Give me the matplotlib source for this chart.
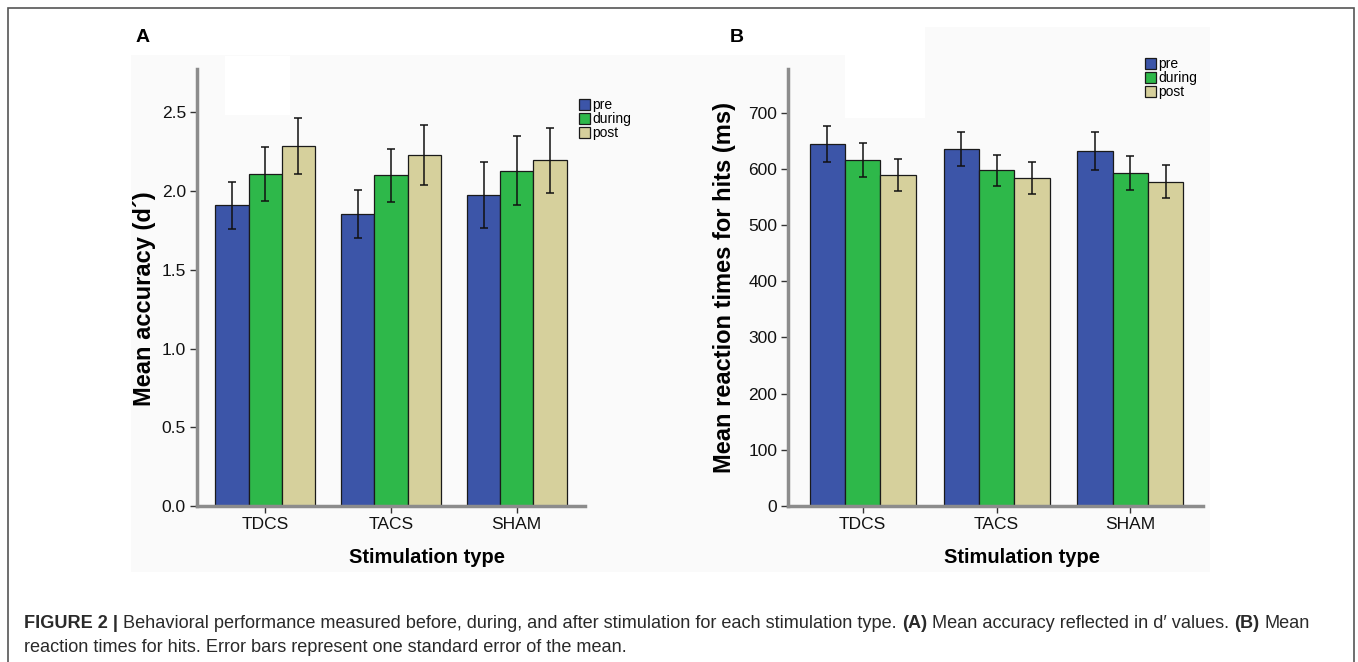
import matplotlib
matplotlib.use("Agg")
import matplotlib.pyplot as plt
import numpy as np
from matplotlib.patches import Rectangle

plt.rcParams['font.family'] = ['Liberation Sans', 'DejaVu Sans']

# data
stim_types = ["TDCS", "TACS", "SHAM"]
phases = ["pre", "during", "post"]

acc_pre = [1.91, 1.855, 1.975]
acc_during = [2.11, 2.10, 2.13]
acc_post = [2.285, 2.23, 2.195]
acc_pre_se = [0.15, 0.155, 0.21]
acc_during_se = [0.17, 0.17, 0.22]
acc_post_se = [0.177, 0.19, 0.207]

rt_pre = [644, 635, 632]
rt_during = [616, 597, 592]
rt_post = [589, 583.5, 577]
rt_pre_se = [32, 30, 34]
rt_during_se = [30, 28, 30.5]
rt_post_se = [29, 29, 29]

colors = ["#3c55a8", "#2eb84a", "#d6d09c"]

W, H = 1358, 662
fig = plt.figure(figsize=(W / 100, H / 100), dpi=100)


def px_rect(x0, y0, x1, y1, **kw):
    # rectangle given in pixel coords (origin top-left)
    fig.add_artist(Rectangle((x0 / W, 1 - y1 / H), (x1 - x0) / W, (y1 - y0) / H,
                             transform=fig.transFigure, **kw))


# outer frame and faint scanned grey background
px_rect(8, 8, 1354, 680, fill=False, ec="#555555", lw=1.2, zorder=0)
px_rect(131, 55, 1210, 572, fc="#fafafa", ec="none", zorder=0)
px_rect(925, 27, 1210, 55, fc="#fafafa", ec="none", zorder=0)
px_rect(225, 56, 290, 115, fc="white", ec="none", zorder=0)
px_rect(845, 30, 925, 118, fc="white", ec="none", zorder=0)


def draw_panel(ax, means, errs, ylim, yticks, xlim):
    x = np.arange(len(stim_types))
    w = 0.264
    for i in range(len(phases)):
        ax.bar(x + (i - 1) * w, means[i], w, yerr=errs[i], color=colors[i],
               edgecolor="#1a1a1a", linewidth=0.9, label=phases[i], capsize=3,
               error_kw=dict(elinewidth=1.1, ecolor="#111111", capthick=1.1), zorder=2)
    ax.set_xlim(*xlim)
    ax.set_ylim(*ylim)
    ax.set_yticks(yticks)
    ax.set_xticks(x)
    ax.set_xticklabels(stim_types)
    ax.set_facecolor("none")
    for s in ["top", "right"]:
        ax.spines[s].set_visible(False)
    for s in ["left", "bottom"]:
        ax.spines[s].set_color("#8c8c8c")
        ax.spines[s].set_linewidth(2.5)
    ax.tick_params(direction="out", length=5, width=1, color="#333333",
                   labelsize=12.5, pad=3, labelcolor="#111111")
    ax.tick_params(axis="x", pad=3)


leg_kw = dict(loc="upper left", frameon=False, fontsize=10, handlelength=0.8,
              handleheight=0.8, handletextpad=0.15, labelspacing=0.0,
              borderpad=0, borderaxespad=0)

axA = fig.add_axes([197 / W, 1 - 506 / H, (585 - 197) / W, (506 - 69) / H])
draw_panel(axA, [acc_pre, acc_during, acc_post],
           [acc_pre_se, acc_during_se, acc_post_se],
           (0, 2.776), [0, 0.5, 1.0, 1.5, 2.0, 2.5], (-0.543, 2.543))
axA.set_yticklabels(["0.0", "0.5", "1.0", "1.5", "2.0", "2.5"])
axA.set_ylabel("Mean accuracy (d´)", fontsize=17, fontweight="bold")
axA.yaxis.set_label_coords(-0.106, 0.474)
axA.set_xlabel("Stimulation type", fontsize=14.5, fontweight="bold")
axA.xaxis.set_label_coords(0.593, -0.097)
axA.legend(bbox_to_anchor=(0.985, 0.933), **leg_kw)

axB = fig.add_axes([788.3 / W, 1 - 506 / H, (1203.3 - 788.3) / W, (506 - 69) / H])
draw_panel(axB, [rt_pre, rt_during, rt_post],
           [rt_pre_se, rt_during_se, rt_post_se],
           (0, 777.6), [0, 100, 200, 300, 400, 500, 600, 700], (-0.556, 2.544))
axB.set_ylabel("Mean reaction times for hits (ms)", fontsize=17, fontweight="bold")
axB.yaxis.set_label_coords(-0.127, 0.499)
axB.set_xlabel("Stimulation type", fontsize=14.5, fontweight="bold")
axB.xaxis.set_label_coords(0.564, -0.097)
axB.legend(bbox_to_anchor=(0.860, 1.027), **leg_kw)

fig.text(143 / W, 1 - 37 / H, "A", fontsize=14, fontweight="bold", va="center", ha="center")
fig.text(737 / W, 1 - 37 / H, "B", fontsize=14, fontweight="bold", va="center", ha="center")

# caption with mixed bold / regular runs
renderer = fig.canvas.get_renderer()


def rich_line(x_px, y_px, parts, size=13.1):
    gap = 0.28 * size * 100 / 72
    for text, bold in parts:
        t = fig.text(x_px / W, 1 - y_px / H, text, fontsize=size, color="#2a2a2a",
                     fontweight="bold" if bold else "normal", va="center", ha="left")
        x_px += t.get_window_extent(renderer=renderer).width + gap


rich_line(24, 624, [("FIGURE 2 |", True),
                    ("Behavioral performance measured before, during, and after stimulation for each stimulation type.", False),
                    ("(A)", True),
                    ("Mean accuracy reflected in d′ values.", False),
                    ("(B)", True),
                    ("Mean", False)])
rich_line(24, 648, [("reaction times for hits. Error bars represent one standard error of the mean.", False)])

fig.savefig("out.png", dpi=100)
